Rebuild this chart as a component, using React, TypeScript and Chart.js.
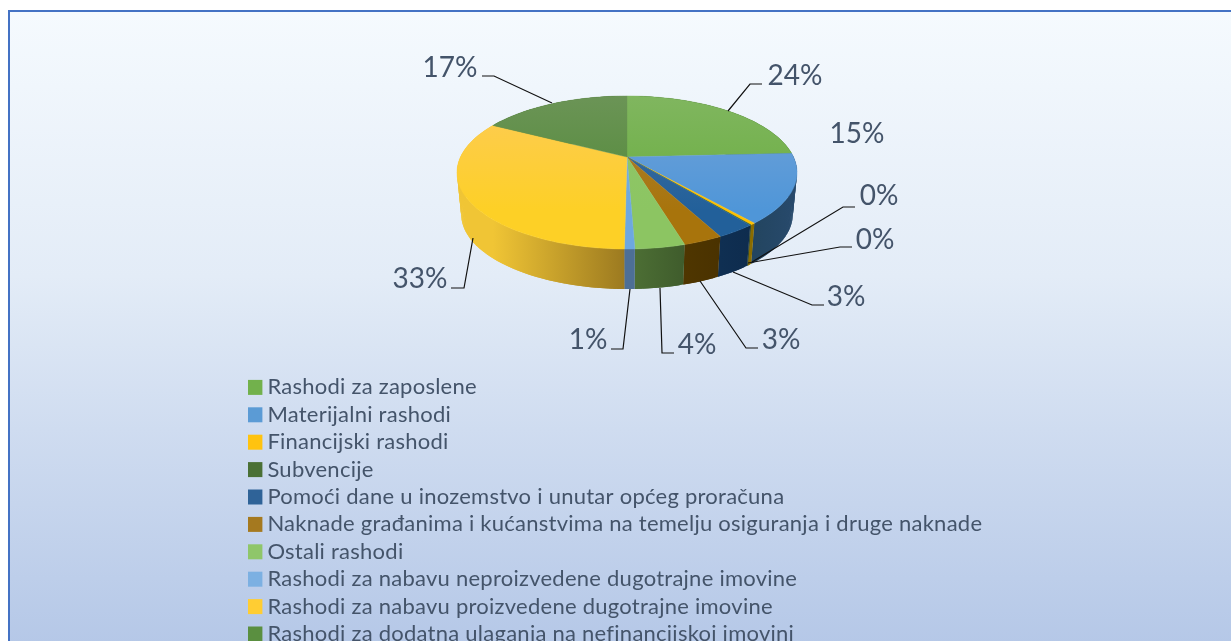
import React, { useEffect, useRef } from "react";
import { Chart, registerables } from "chart.js";

Chart.register(...registerables);

const categories = [
  "Rashodi za zaposlene",
  "Materijalni rashodi",
  "Financijski rashodi",
  "Subvencije",
  "Pomoći dane u inozemstvo i unutar općeg proračuna",
  "Naknade građanima i kućanstvima na temelju osiguranja i druge naknade",
  "Ostali rashodi",
  "Rashodi za nabavu neproizvedene dugotrajne imovine",
  "Rashodi za nabavu proizvedene dugotrajne imovine",
  "Rashodi za dodatna ulaganja na nefinancijskoj imovini",
];
const shares = [24.2, 14.6, 0.4, 0.1, 3.1, 3.1, 3.9, 0.8, 32.6, 17.2];
const percentLabels = ["24%", "15%", "0%", "0%", "3%", "3%", "4%", "1%", "33%", "17%"];

const topLight = ["#80b65f", "#72a2d8", "#ffc000", "#5f7d4c", "#44709f", "#ab8238", "#8fc66a", "#7fb2e2", "#fdcb57", "#6b9456"];
const topDeep = ["#6aae40", "#4f96d8", "#ffc000", "#3f6b2a", "#22609a", "#a8740c", "#8cc562", "#6da8e0", "#fdd026", "#528a38"];
const legendColors = ["#72b14c", "#5b9bd5", "#ffc30f", "#4a7035", "#2f6398", "#a5791f", "#8fc66a", "#7cb0e2", "#ffcd33", "#5a8f40"];
const sideLeft = ["#3f6b2a", "#234560", "#8a6c00", "#2a4018", "#0f2f52", "#4f3600", "#4c6e34", "#4d6f96", "#f0c535", "#3f6b2a"];
const sideRight = ["#3f6b2a", "#27496b", "#8a6c00", "#2a4018", "#0e2c4e", "#4a3200", "#3f5c2c", "#4d6f96", "#9c7a20", "#3f6b2a"];

// Label placement: text centre, then leader start, elbow and end.
const labelLayout: { text: number[]; line: number[][] }[] = [
  { text: [795, 76], line: [[728, 111], [750, 84], [762, 84]] },
  { text: [857, 134], line: [] },
  { text: [879, 196], line: [[752, 262], [843, 207], [855, 207]] },
  { text: [875, 240], line: [[748, 263], [840, 247], [852, 247]] },
  { text: [846, 297], line: [[733, 272], [812, 305], [824, 305]] },
  { text: [781, 340], line: [[700, 281], [746, 348], [758, 348]] },
  { text: [697, 345], line: [[660, 288], [662, 353], [674, 353]] },
  { text: [588, 340], line: [[630, 289], [623, 349], [611, 349]] },
  { text: [420, 279], line: [[473, 238], [464, 288], [451, 288]] },
  { text: [450, 68], line: [[552, 103], [494, 76], [482, 76]] },
];

const CX = 627;
const TOP_C = 157;
const A = 166.5;
const B = 73.4;
const P = -0.2026;
const DEPTH_SCALE = 0.975;
const BOTTOM_C = 199.3;

function project(angle: number, bottom: boolean): [number, number] {
  const u = Math.cos(angle);
  const v = Math.sin(angle);
  const w = 1 + P * v;
  const k = bottom ? DEPTH_SCALE : 1;
  return [CX + (k * A * u) / w, (bottom ? BOTTOM_C : TOP_C) + (k * B * v) / w];
}

const pie3d = {
  id: "pie3d",
  beforeDraw(chart: any) {
    (chart.ctx as any).letterSpacing = "0.25px";
  },
  beforeDatasetDraw(chart: any) {
    const ctx = chart.ctx as CanvasRenderingContext2D;
    (ctx as any).letterSpacing = "0px";
    const arcs = chart.getDatasetMeta(0).data as any[];
    const steps = (a: any) => Math.max(2, Math.ceil((a.endAngle - a.startAngle) / 0.02));

    // Side wall, one overlapping quad per step so that the outline reaches the
    // silhouette without seams; the top face is painted afterwards and covers
    // the part facing away.
    arcs.forEach((arc, i) => {
      const n = steps(arc);
      const start = arc.startAngle;
      const end = arc.endAngle;
      const p0 = project(start, false);
      const p1 = project(end, false);
      const grad = ctx.createLinearGradient(Math.min(p0[0], p1[0]), 0, Math.max(p0[0], p1[0]) + 0.01, 0);
      grad.addColorStop(0, sideLeft[i]);
      grad.addColorStop(1, sideRight[i]);
      ctx.fillStyle = grad;
      for (let s = 0; s < n; s++) {
        const a0 = start + ((end - start) * s) / n;
        const a1 = Math.min(end, start + ((end - start) * (s + 2)) / n);
        const q = [project(a0, false), project(a1, false), project(a1, true), project(a0, true)];
        ctx.beginPath();
        q.forEach((p, j) => (j ? ctx.lineTo(p[0], p[1]) : ctx.moveTo(p[0], p[1])));
        ctx.closePath();
        ctx.fill();
      }
    });

    // Top face.
    arcs.forEach((arc, i) => {
      const n = steps(arc);
      const g = ctx.createLinearGradient(0, 96, 0, 249);
      g.addColorStop(0, topLight[i]);
      g.addColorStop(0.75, topDeep[i]);
      g.addColorStop(1, topDeep[i]);
      ctx.beginPath();
      ctx.moveTo(CX, TOP_C);
      for (let s = 0; s <= n; s++) {
        const p = project(arc.startAngle + ((arc.endAngle - arc.startAngle) * s) / n, false);
        ctx.lineTo(p[0], p[1]);
      }
      ctx.closePath();
      ctx.fillStyle = g;
      ctx.fill();
      ctx.strokeStyle = g;
      ctx.lineWidth = 0.4;
      ctx.stroke();
    });

    // Leader lines and percentage labels.
    ctx.save();
    labelLayout.forEach((item, i) => {
      if (item.line.length) {
        ctx.beginPath();
        item.line.forEach((p, j) => (j ? ctx.lineTo(p[0], p[1]) : ctx.moveTo(p[0], p[1])));
        ctx.strokeStyle = "#111111";
        ctx.lineWidth = 1.2;
        ctx.stroke();
      }
      ctx.font = "28px Lato";
      ctx.fillStyle = "#44546a";
      ctx.textAlign = "center";
      ctx.textBaseline = "middle";
      ctx.fillText(percentLabels[i], item.text[0], item.text[1]);
    });
    ctx.restore();
    return false;
  },
  afterLayout(chart: any) {
    const l = chart.legend;
    l.left = 248;
    l.right = 1100;
    l.top = 371;
    l.bottom = 900;
    l.width = 852;
    l.height = 529;
  },
};

export default function App() {
  const ref = useRef<HTMLCanvasElement | null>(null);
  useEffect(() => {
    document.body.style.margin = "0";
    document.body.style.overflow = "hidden";
    const chart = new Chart(ref.current as HTMLCanvasElement, {
      type: "pie",
      data: {
        labels: categories,
        datasets: [{ data: shares, backgroundColor: legendColors, borderWidth: 0 }],
      },
      plugins: [pie3d],
      options: {
        responsive: false,
        animation: false,
        layout: { padding: 0 },
        plugins: {
          tooltip: { enabled: false },
          legend: {
            display: true,
            position: "left",
            align: "start",
            fullSize: false,
            labels: {
              usePointStyle: true,
              pointStyle: "rect",
              boxWidth: 3,
              boxHeight: 15,
              padding: 5.4,
              color: "#44546a",
              font: { family: "Lato", size: 22 },
            },
          },
        },
      },
    } as any);
    return () => chart.destroy();
  }, []);
  return (
    <div style={{ position: "fixed", left: 0, top: 0, width: 1231, height: 641, overflow: "hidden", background: "#fff" }}>
      <div
        style={{
          position: "absolute",
          left: 8,
          top: 10,
          width: 1240,
          height: 700,
          boxSizing: "border-box",
          border: "2px solid #4472c4",
          background: "linear-gradient(180deg, #f5fafe 0%, #e3ecf7 38%, #cfdcf0 60%, #b4c7e7 92%)",
        }}
      />
      <canvas ref={ref} width={1231} height={641} style={{ position: "absolute", left: 0, top: 0, display: "block" }} />
    </div>
  );
}
